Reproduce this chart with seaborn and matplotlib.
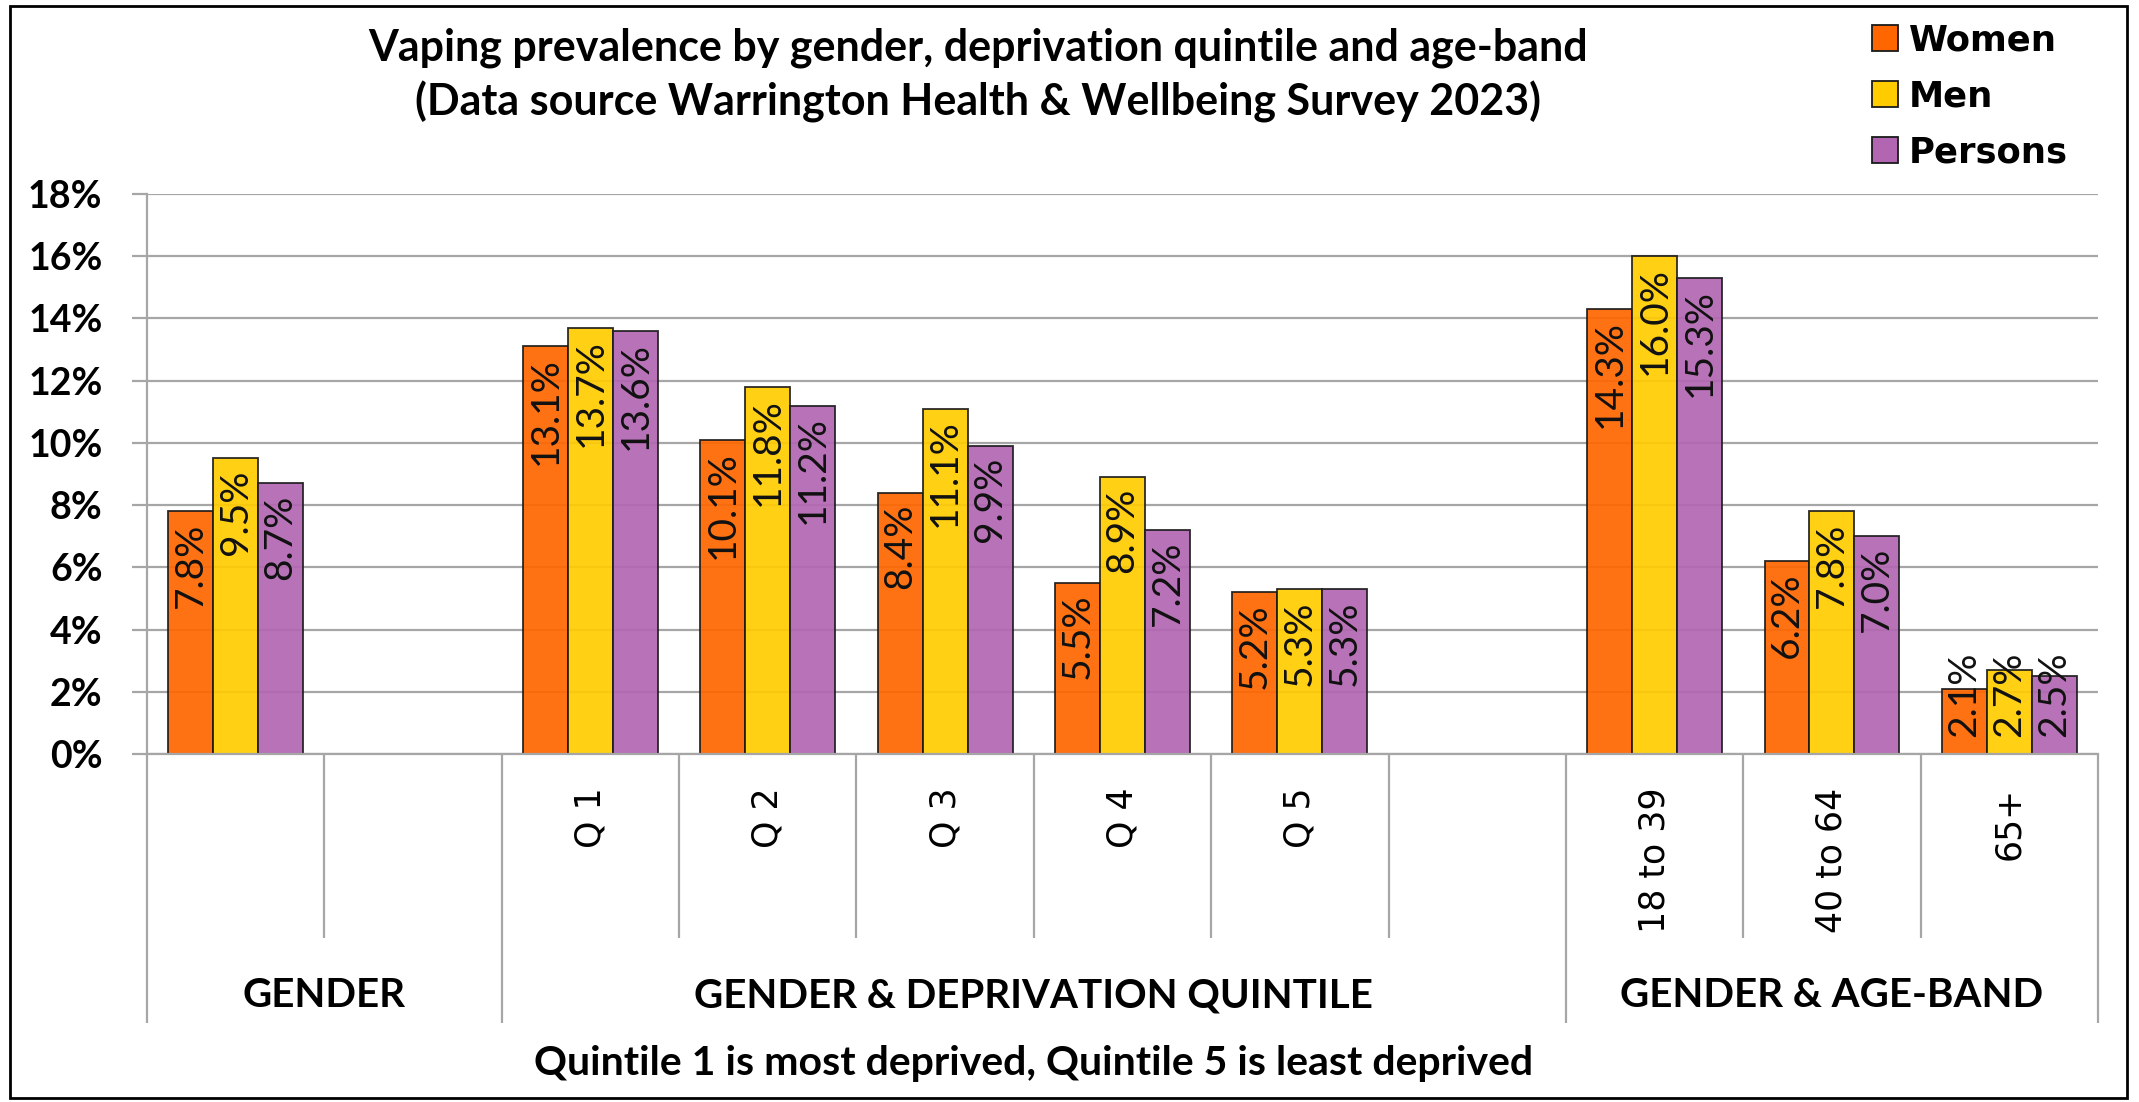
import numpy as np
import pandas as pd

import matplotlib

matplotlib.use("Agg")
import matplotlib.pyplot as plt  # noqa: E402
from matplotlib.patches import Patch, Rectangle  # noqa: E402
from matplotlib.ticker import FuncFormatter, MultipleLocator  # noqa: E402
from matplotlib.transforms import blended_transform_factory  # noqa: E402

import seaborn as sns  # noqa: E402

# --- data ---
categories = ["GEN", "_gap1", "Q 1", "Q 2", "Q 3", "Q 4", "Q 5", "_gap2",
              "18 to 39", "40 to 64", "65+"]
tick_labels = ["", "", "Q 1", "Q 2", "Q 3", "Q 4", "Q 5", "", "18 to 39", "40 to 64", "65+"]
data_categories = ["GEN", "Q 1", "Q 2", "Q 3", "Q 4", "Q 5", "18 to 39", "40 to 64", "65+"]
series = ["Women", "Men", "Persons"]
women = [7.8, 13.1, 10.1, 8.4, 5.5, 5.2, 14.3, 6.2, 2.1]
men = [9.5, 13.7, 11.8, 11.1, 8.9, 5.3, 16.0, 7.8, 2.7]
persons = [8.7, 13.6, 11.2, 9.9, 7.2, 5.3, 15.3, 7.0, 2.5]
groups = ["GENDER", "GENDER & DEPRIVATION QUINTILE", "GENDER & AGE-BAND"]
group_spans = [(0, 1), (2, 7), (8, 10)]  # slot index ranges
title = ("Vaping prevalence by gender, deprivation quintile and age-band\n"
         "(Data source Warrington Health & Wellbeing Survey 2023)")
footnote = "Quintile 1 is most deprived, Quintile 5 is least deprived"

colors = ["#FF6600", "#FFCC00", "#B266B2"]
grid_col = "#A6A6A6"

rows = []
for name, vals in zip(series, [women, men, persons]):
    for cat, v in zip(data_categories, vals):
        rows.append({"category": cat, "series": name, "value": v / 100.0})
df = pd.DataFrame(rows)

W, H = 2139, 1102
fig = plt.figure(figsize=(W / 100, H / 100), dpi=100)
ax = fig.add_axes([147 / W, 1 - 754 / H, (2098 - 147) / W, (754 - 194) / H])

sns.barplot(
    data=df, x="category", y="value", hue="series",
    order=categories, hue_order=series, palette=colors,
    width=0.76, gap=0, saturation=1, errorbar=None,
    edgecolor="#1a1a1a", linewidth=1.3, alpha=0.92,
    legend=False, ax=ax,
)

ax.set_xlim(-0.5, len(categories) - 0.5)
ax.set_ylim(0, 0.18)
ax.yaxis.set_major_locator(MultipleLocator(0.02))
ax.yaxis.set_major_formatter(FuncFormatter(lambda v, _: f"{v * 100:.0f}%"))
ax.yaxis.grid(True, color=grid_col, lw=1.6)
ax.set_axisbelow(True)
ax.set_xlabel("")
ax.set_ylabel("")

for side in ["top", "right"]:
    ax.spines[side].set_visible(False)
for side in ["left", "bottom"]:
    ax.spines[side].set_color(grid_col)
    ax.spines[side].set_linewidth(1.6)

ax.tick_params(axis="y", length=11, width=1.6, color=grid_col, pad=21)
for lab in ax.get_yticklabels():
    lab.set_fontfamily("Lato")
    lab.set_fontweight("bold")
    lab.set_fontsize(27)

ax.set_xticks(range(len(categories)))
ax.set_xticklabels(tick_labels, rotation=90, fontsize=25,
                   fontfamily="DejaVu Sans", va="top", ha="center")
ax.tick_params(axis="x", length=0, pad=24)

# value labels, rotated, inside the top of each bar
for bar in ax.patches:
    h = bar.get_height()
    if not np.isfinite(h) or h <= 0:
        continue
    x = bar.get_x() + bar.get_width() / 2
    txt = f"{h * 100:.1f}%"
    if h < 0.035:
        ax.text(x, 0.0055, txt, rotation=90, ha="center", va="bottom",
                fontsize=28, family="Lato", color="#111111")
    else:
        ax.text(x, h - 0.0035, txt, rotation=90, ha="center", va="top",
                fontsize=28, family="Lato", color="#111111")

# hierarchical axis: separators and group labels
tr = blended_transform_factory(ax.transData, ax.transAxes)
group_edges = set()
for a, b in group_spans:
    group_edges.add(a - 0.5)
    group_edges.add(b + 0.5)
for i in range(len(categories) + 1):
    xb = i - 0.5
    y_end = -0.48 if xb in group_edges else -0.329
    ax.plot([xb, xb], [0, y_end], transform=tr, color=grid_col, lw=1.6,
            clip_on=False, solid_capstyle="butt")
for name, (a, b) in zip(groups, group_spans):
    ax.text((a + b) / 2, -0.432, name, transform=tr, ha="center", va="center",
            fontsize=29, family="Lato", fontweight="bold")

ftr = blended_transform_factory(ax.transData, fig.transFigure)
ax.text(4.5, 1 - 1064 / H, footnote, transform=ftr, ha="center", va="center",
        fontsize=29.5, family="Lato", fontweight="bold")

fig.text(978 / W, 1 - 75 / H, title, ha="center", va="center", fontsize=31,
         family="Lato", fontweight="bold", linespacing=1.38)

handles = [Patch(facecolor=c, edgecolor="#1a1a1a", lw=1.3) for c in colors]
fig.legend(handles, series, loc="upper left", bbox_to_anchor=(1854 / W, 1 - 6 / H),
           frameon=False, borderpad=0, handlelength=0.75, handleheight=0.75,
           handletextpad=0.3, labelspacing=0.62,
           prop={"family": "DejaVu Sans", "weight": "bold", "size": 25.5})

fig.patches.append(Rectangle((10 / W, 4 / H), (W - 22) / W, (H - 10) / H,
                             transform=fig.transFigure, fill=False,
                             edgecolor="black", lw=2))

fig.savefig("out.png", dpi=100)
